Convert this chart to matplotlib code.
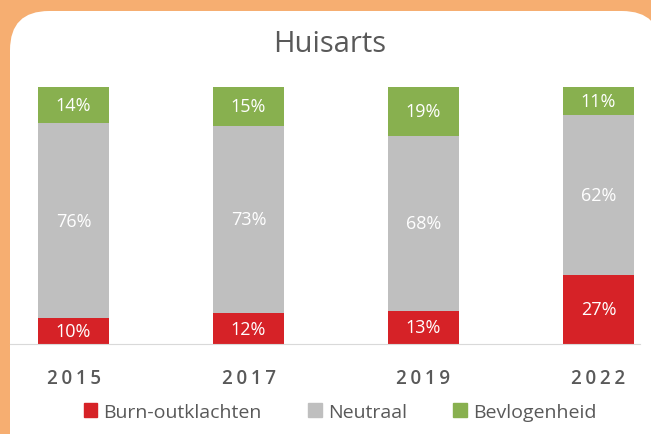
import matplotlib.pyplot as plt
from matplotlib.patches import FancyBboxPatch, Patch

plt.rcParams['font.family'] = ['Open Sans', 'DejaVu Sans']

years = ['2015', '2017', '2019', '2022']
burnout = [10, 12, 13, 27]
neutraal = [76, 73, 68, 62]
bevlogen = [14, 15, 19, 11]

red = '#D62227'
grey = '#BFBFBF'
green = '#88B04F'
txt = '#595959'

W, H = 651, 435
fig = plt.figure(figsize=(W / 100, H / 100), dpi=100)
fig.patch.set_facecolor('#F6AE71')

# white rounded panel, behind the axes
panel = FancyBboxPatch((10 / W, -0.2), 1.0, 1.2 - 12 / H,
                       boxstyle='round,pad=0,rounding_size=0.06',
                       transform=fig.transFigure, facecolor='white',
                       edgecolor='none', mutation_aspect=W / H, zorder=-10)
fig.patches.append(panel)

ax = fig.add_axes([10 / W, 1 - 345 / H, 630 / W, (345 - 88) / H])
ax.set_facecolor('none')
x = range(len(years))
bw = 0.406
ax.bar(x, burnout, bw, color=red)
ax.bar(x, neutraal, bw, bottom=burnout, color=grey)
bottom3 = [a + b for a, b in zip(burnout, neutraal)]
ax.bar(x, bevlogen, bw, bottom=bottom3, color=green)

for i in x:
    ax.text(i, burnout[i] / 2, f'{burnout[i]}%', ha='center', va='center',
            color='white', fontsize=13)
    ax.text(i, burnout[i] + neutraal[i] / 2, f'{neutraal[i]}%', ha='center',
            va='center', color='white', fontsize=13)
    ax.text(i, bottom3[i] + bevlogen[i] / 2, f'{bevlogen[i]}%', ha='center',
            va='center', color='white', fontsize=13)

ax.set_xlim(-0.363, 3.237)
ax.set_ylim(0, 100)
for s in ['top', 'right', 'left']:
    ax.spines[s].set_visible(False)
ax.spines['bottom'].set_color('#D9D9D9')
ax.set_yticks([])
ax.set_xticks(list(x))
# spread the digits a little, like the original
ax.set_xticklabels(['\u2009'.join(y) for y in years], color=txt, fontsize=13.5,
                   fontweight='semibold')
ax.tick_params(axis='x', length=0, pad=17)

fig.text(330 / W, 1 - 45 / H, 'Huisarts', ha='center', va='center',
         color=txt, fontsize=21)

handles = [Patch(color=red, label='Burn-outklachten'),
           Patch(color=grey, label='Neutraal'),
           Patch(color=green, label='Bevlogenheid')]
leg = fig.legend(handles=handles, loc='center', bbox_to_anchor=(340 / W, 1 - 413 / H),
                 ncol=3, frameon=False, fontsize=14, handlelength=0.7,
                 handleheight=0.7, handletextpad=0.3, columnspacing=2.4)
for t in leg.get_texts():
    t.set_color(txt)

fig.savefig('out.png', dpi=100, facecolor=fig.get_facecolor())
